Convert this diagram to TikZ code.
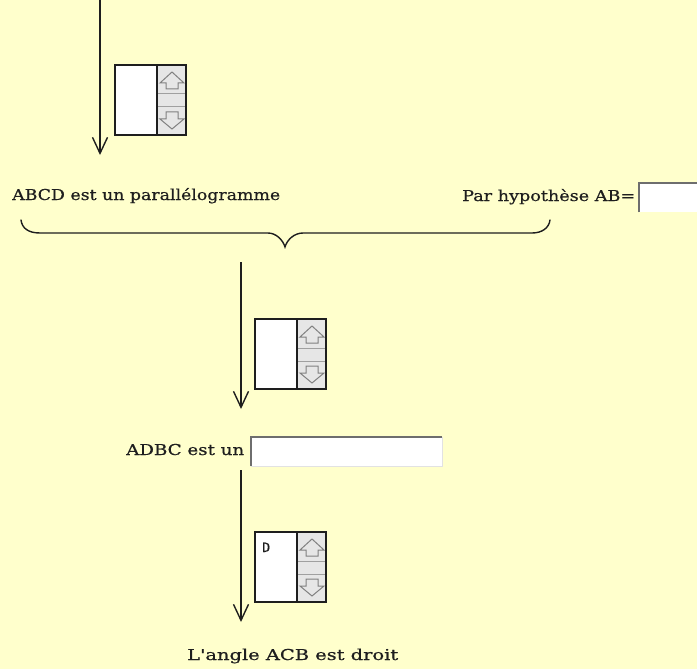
\documentclass[tikz,border=0pt]{standalone}
\usepackage{fontspec}
\usepackage{graphicx}
\setmainfont{DejaVu Serif}[FakeBold=0.5]
\newfontfamily\spinmono{DejaVu Sans Mono}[FakeBold=0.5]
\usetikzlibrary{arrows.meta}
\definecolor{bg}{HTML}{FFFFCC}
\definecolor{ink}{HTML}{1E1E1E}
\definecolor{spingray}{HTML}{E6E6E6}
\definecolor{sepgray}{HTML}{A0A0A0}
\definecolor{arrgray}{HTML}{808080}
\definecolor{darkedge}{HTML}{6E6E6E}
\definecolor{lightedge}{HTML}{E2E2E2}
\newcommand{\fitw}[2]{\resizebox{#1}{\height}{#2}}
\tikzset{
  lbl/.style={inner sep=0pt, anchor=base west, text=ink, font=\fontsize{15}{18}\selectfont},
  flow/.style={draw=ink, line width=1.4pt, -{Straight Barb[length=16pt,width=15pt,line width=1.4pt]}},
  bracepath/.style={draw=ink, line width=1.4pt, line cap=round},
  inbox/.style={fill=white, draw=none, inner sep=0pt, anchor=north west},
  spinbox/.pic={
    \fill[white] (0,0) rectangle (42,70);
    \fill[spingray] (42,0) rectangle (71,70);
    \draw[sepgray, line width=1pt] (42,29) -- (71,29) (42,42) -- (71,42);
    \draw[arrgray, line width=1pt, line join=miter] (45,18) -- (57,7) -- (69,18) -- (63,18) -- (63,24) -- (51,24) -- (51,18) -- cycle;
    \draw[arrgray, line width=1pt, line join=miter] (51,47) -- (63,47) -- (63,54) -- (69,54) -- (57,64) -- (45,54) -- (51,54) -- cycle;
    \draw[ink, line width=1.5pt] (0,0) rectangle (71,70) (42,0) -- (42,70);
  }
}
\begin{document}
\begin{tikzpicture}[x=1pt,y=-1pt]
\useasboundingbox[fill=bg] (0,0) rectangle (697,669);

% arrow 1
\coordinate (a1s) at (100,0);
\coordinate (a1e) at (100,155);
\draw[flow] (a1s) -- (a1e);
\pic at (115,65) {spinbox};

% line 1 texts
\node[lbl] (t1) at (12,200) {\fitw{268pt}{ABCD est un parallélogramme}};
\node[lbl] (t2) at (462,201) {\fitw{173pt}{Par hypothèse AB=}};
\node[inbox, minimum width=70pt, minimum height=29pt] (in1) at (639,183) {};
\draw[darkedge, line width=1.2pt] (in1.south west) -- (in1.north west) -- (in1.north east);

% brace
\draw[bracepath] (21,220) .. controls (22,228) and (28,233) .. (40,233) -- (268,233)
  .. controls (276,233) and (283,240) .. (285,247)
  .. controls (287,240) and (294,233) .. (303,233) -- (532,233)
  .. controls (542,233) and (549,228) .. (550,220);

% arrow 2
\coordinate (a2s) at (241,262);
\coordinate (a2e) at (241,409);
\draw[flow] (a2s) -- (a2e);
\pic at (255,319) {spinbox};

% line 2
\node[lbl] (t3) at (126,455) {\fitw{118pt}{ADBC est un}};
\node[inbox, minimum width=191pt, minimum height=29pt] (in2) at (251,437) {};
\draw[lightedge, line width=1.2pt] (in2.south west) -- (in2.south east) -- (in2.north east);
\draw[darkedge, line width=1.2pt] (in2.south west) -- (in2.north west) -- (in2.north east);

% arrow 3
\coordinate (a3s) at (241,470);
\coordinate (a3e) at (241,622);
\draw[flow] (a3s) -- (a3e);
\pic at (255,532) {spinbox};
\node[inner sep=0pt, anchor=base west, text=ink, font=\spinmono\fontsize{13}{15}\selectfont] (d) at (262,552) {\fitw{8pt}{D}};

% line 3
\node[lbl] (t4) at (187,660) {\fitw{211pt}{L\textquotesingle angle ACB est droit}};
\end{tikzpicture}
\end{document}
